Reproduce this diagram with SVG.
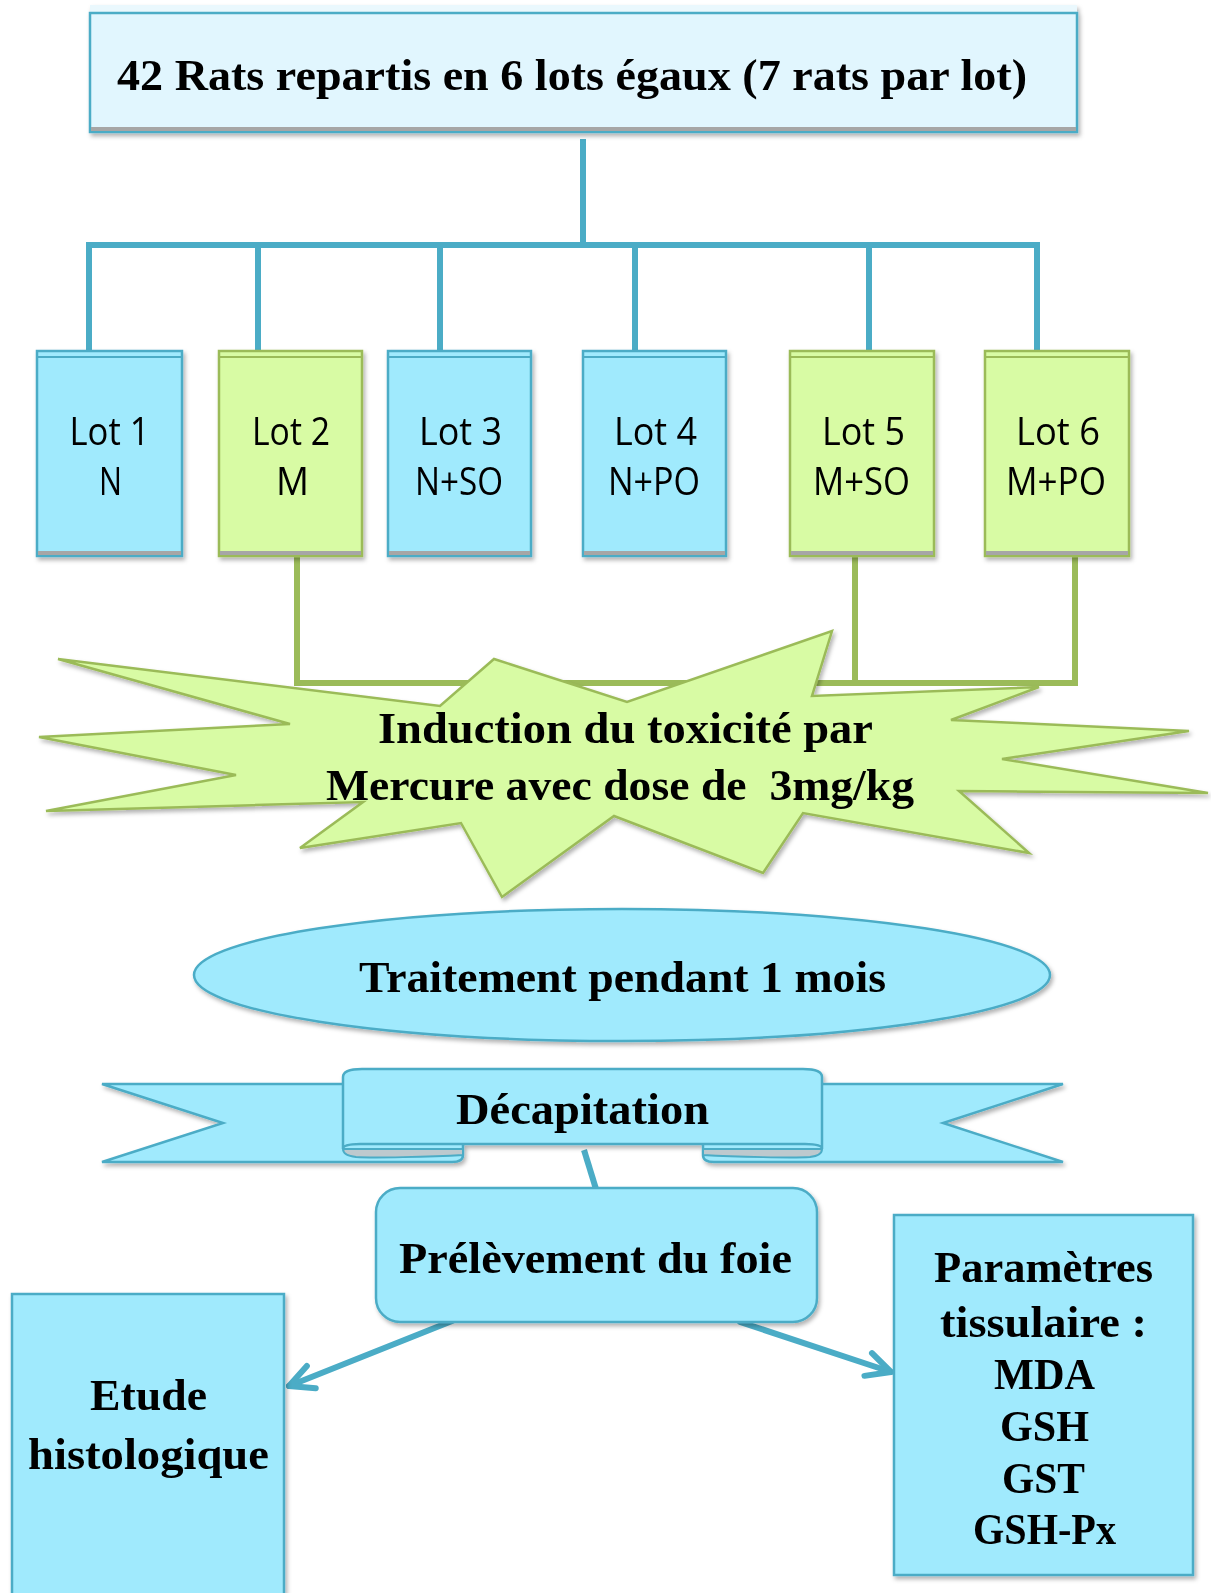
<svg xmlns="http://www.w3.org/2000/svg" width="1211" height="1593" viewBox="0 0 1211 1593">
<defs>
<filter id="sh" x="-10%" y="-10%" width="120%" height="120%">
<feDropShadow dx="2" dy="3" stdDeviation="2" flood-color="#000" flood-opacity="0.3"/>
</filter>
<marker id="ah" markerUnits="userSpaceOnUse" viewBox="-30 -16 34 32" refX="0" refY="0" markerWidth="34" markerHeight="32" orient="auto" overflow="visible">
<path d="M-24,-12 L0,0 L-24,12" fill="none" stroke="#4BACC6" stroke-width="6" stroke-linecap="round" stroke-linejoin="round"/>
</marker>
</defs>
<style>
.bf{fill:#A0EAFD;stroke:#4BACC6;stroke-width:2.5}
.gf{fill:#D8FBA4;stroke:#9BBB59;stroke-width:2.5}
.bl{stroke:#4BACC6;stroke-width:2}
.gl{stroke:#9BBB59;stroke-width:2}
.gry{fill:#A6A6A6}
.lot{font-family:"Open Sans","Liberation Sans",sans-serif;font-size:38px;fill:#000;text-anchor:middle}
.tm{font-family:"Liberation Serif","Times New Roman",serif;font-weight:bold;font-size:45px;fill:#000;text-anchor:middle}
.cb{fill:none;stroke:#4BACC6;stroke-width:6}
.cg{fill:none;stroke:#9BBB59;stroke-width:6}
.ar{fill:none;stroke:#4BACC6;stroke-width:6;stroke-linecap:round;marker-end:url(#ah)}
</style>

<g id="connectors">
<line x1="583" y1="139" x2="583" y2="246" class="cb"/>
<line x1="86" y1="245" x2="1040" y2="245" class="cb" stroke-width="7"/>
<line x1="89" y1="245" x2="89" y2="351" class="cb"/>
<line x1="258" y1="245" x2="258" y2="351" class="cb"/>
<line x1="440" y1="245" x2="440" y2="351" class="cb"/>
<line x1="635" y1="245" x2="635" y2="351" class="cb"/>
<line x1="869" y1="245" x2="869" y2="351" class="cb"/>
<line x1="1037" y1="245" x2="1037" y2="351" class="cb"/>
<line x1="297" y1="556" x2="297" y2="684" class="cg"/>
<line x1="855" y1="556" x2="855" y2="684" class="cg"/>
<line x1="1075" y1="556" x2="1075" y2="684" class="cg"/>
<line x1="294" y1="683" x2="1078" y2="683" class="cg" stroke-width="7"/>
<line x1="584" y1="1150" x2="596" y2="1189" class="cb" stroke-width="5"/>
<line x1="452" y1="1321" x2="289" y2="1386" class="ar"/>
<line x1="740" y1="1322" x2="891" y2="1372" class="ar"/>
</g>

<g id="top" filter="url(#sh)">
<rect x="90" y="5" width="987" height="9" fill="#EAF8FD"/>
<rect x="90" y="13" width="987" height="119" fill="#E1F6FE" stroke="#4BACC6" stroke-width="2.5"/>
<rect x="91" y="127" width="985" height="4" class="gry"/>
<text x="572" y="90" class="tm" textLength="910" lengthAdjust="spacingAndGlyphs">42 Rats repartis en 6 lots égaux (7 rats par lot)</text>
</g>

<g id="lot1" filter="url(#sh)">
<rect x="37" y="351" width="145" height="205" class="bf"/>
<line x1="37" y1="357" x2="182" y2="357" class="bl"/>
<rect x="38" y="551" width="143" height="4" class="gry"/>
<text x="109.5" y="445" class="lot" textLength="80" lengthAdjust="spacingAndGlyphs">Lot 1</text>
<text x="110.5" y="495" class="lot" textLength="23" lengthAdjust="spacingAndGlyphs">N</text>
</g>
<g id="lot2" filter="url(#sh)">
<rect x="219" y="351" width="143" height="205" class="gf"/>
<line x1="219" y1="357" x2="362" y2="357" class="gl"/>
<rect x="220" y="551" width="141" height="4" class="gry"/>
<text x="291" y="445" class="lot" textLength="78" lengthAdjust="spacingAndGlyphs">Lot 2</text>
<text x="292.5" y="495" class="lot" textLength="33" lengthAdjust="spacingAndGlyphs">M</text>
</g>
<g id="lot3" filter="url(#sh)">
<rect x="388" y="351" width="143" height="205" class="bf"/>
<line x1="388" y1="357" x2="531" y2="357" class="bl"/>
<rect x="389" y="551" width="141" height="4" class="gry"/>
<text x="460.5" y="445" class="lot" textLength="83" lengthAdjust="spacingAndGlyphs">Lot 3</text>
<text x="459" y="495" class="lot" textLength="88" lengthAdjust="spacingAndGlyphs">N+SO</text>
</g>
<g id="lot4" filter="url(#sh)">
<rect x="583" y="351" width="143" height="205" class="bf"/>
<line x1="583" y1="357" x2="726" y2="357" class="bl"/>
<rect x="584" y="551" width="141" height="4" class="gry"/>
<text x="655.5" y="445" class="lot" textLength="83" lengthAdjust="spacingAndGlyphs">Lot 4</text>
<text x="654" y="495" class="lot" textLength="92" lengthAdjust="spacingAndGlyphs">N+PO</text>
</g>
<g id="lot5" filter="url(#sh)">
<rect x="790" y="351" width="144" height="205" class="gf"/>
<line x1="790" y1="357" x2="934" y2="357" class="gl"/>
<rect x="791" y="551" width="142" height="4" class="gry"/>
<text x="863.5" y="445" class="lot" textLength="83" lengthAdjust="spacingAndGlyphs">Lot 5</text>
<text x="861.5" y="495" class="lot" textLength="97" lengthAdjust="spacingAndGlyphs">M+SO</text>
</g>
<g id="lot6" filter="url(#sh)">
<rect x="985" y="351" width="144" height="205" class="gf"/>
<line x1="985" y1="357" x2="1129" y2="357" class="gl"/>
<rect x="986" y="551" width="142" height="4" class="gry"/>
<text x="1058" y="445" class="lot" textLength="84" lengthAdjust="spacingAndGlyphs">Lot 6</text>
<text x="1056" y="495" class="lot" textLength="100" lengthAdjust="spacingAndGlyphs">M+PO</text>
</g>

<g id="induction" filter="url(#sh)">
<polygon points="58,659 440,706 494,659 627,702 832,631 812,696 1039,687 951,720 1189,731 1002,759 1208,793 959,791 1029,853 803,813 763,873 614,816 502,897 461,823 300,848 363,802 46,811 236,775 39,737 290,724" fill="#D8FBA4" stroke="#9BBB59" stroke-width="2.5" stroke-linejoin="miter"/>
<text x="625.5" y="743" class="tm" textLength="495" lengthAdjust="spacingAndGlyphs">Induction du toxicité par</text>
<text x="620" y="800" class="tm" textLength="588" lengthAdjust="spacingAndGlyphs" xml:space="preserve">Mercure avec dose de  3mg/kg</text>
</g>

<g id="traitement" filter="url(#sh)">
<ellipse cx="622" cy="975" rx="428" ry="66" class="bf"/>
<text x="622.5" y="992" class="tm" textLength="527" lengthAdjust="spacingAndGlyphs">Traitement pendant 1 mois</text>
</g>

<g id="decapitation" filter="url(#sh)">
<path d="M102,1084 L463,1084 L463,1155 C463,1161 458,1162 452,1162 L102,1162 L223,1123 Z" class="bf"/>
<path d="M1063,1084 L703,1084 L703,1155 C703,1161 708,1162 714,1162 L1063,1162 L943,1123 Z" class="bf"/>
<path d="M343,1149 L463,1149 L463,1155 C430,1157 372,1158 356,1157 C347,1156 343,1153 343,1149 Z" fill="#BDC9CE" stroke="#4BACC6" stroke-width="2"/>
<path d="M822,1149 L703,1149 L703,1155 C736,1157 794,1158 810,1157 C819,1156 822,1153 822,1149 Z" fill="#BDC9CE" stroke="#4BACC6" stroke-width="2"/>
<path d="M343,1077 C343,1071 350,1069 362,1069 L803,1069 C815,1069 822,1071 822,1077 L822,1149 C822,1145 815,1144 805,1144 L360,1144 C350,1144 343,1145 343,1149 Z" class="bf"/>
<text x="582.5" y="1124" class="tm" font-size="46" textLength="253" lengthAdjust="spacingAndGlyphs">Décapitation</text>
</g>

<g id="prelevement" filter="url(#sh)">
<rect x="376" y="1188" width="441" height="134" rx="24" class="bf"/>
<text x="595.5" y="1273" class="tm" font-size="46" textLength="393" lengthAdjust="spacingAndGlyphs">Prélèvement du foie</text>
</g>

<g id="etude" filter="url(#sh)">
<rect x="12" y="1294" width="272" height="330" class="bf"/>
<text x="148.5" y="1410" class="tm" textLength="117" lengthAdjust="spacingAndGlyphs">Etude</text>
<text x="148.5" y="1469" class="tm" textLength="241" lengthAdjust="spacingAndGlyphs">histologique</text>
</g>

<g id="parametres" filter="url(#sh)">
<rect x="894" y="1215" width="299" height="360" class="bf"/>
<text x="1043.5" y="1282" class="tm" textLength="219" lengthAdjust="spacingAndGlyphs">Paramètres</text>
<text x="1043.5" y="1337" class="tm" textLength="207" lengthAdjust="spacingAndGlyphs">tissulaire :</text>
<text x="1044.5" y="1389" class="tm" textLength="101" lengthAdjust="spacingAndGlyphs">MDA</text>
<text x="1044.5" y="1441" class="tm" textLength="89" lengthAdjust="spacingAndGlyphs">GSH</text>
<text x="1043.5" y="1493" class="tm" textLength="83" lengthAdjust="spacingAndGlyphs">GST</text>
<text x="1044.5" y="1544" class="tm" textLength="143" lengthAdjust="spacingAndGlyphs">GSH-Px</text>
</g>
</svg>
